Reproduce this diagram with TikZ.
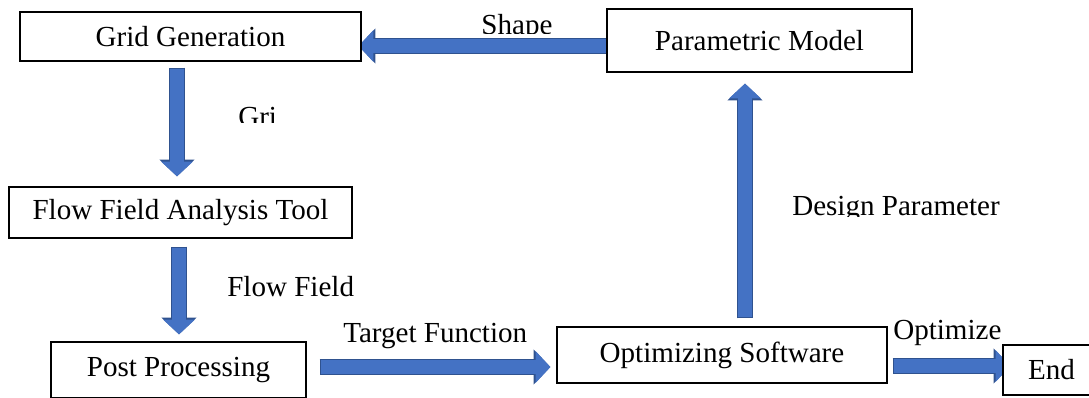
\documentclass[tikz,border=0pt]{standalone}
\usepackage{fontspec}
\setmainfont{Liberation Serif}
\usepackage{xcolor}
\usetikzlibrary{positioning,calc,arrows.meta,backgrounds}
\definecolor{arrowblue}{HTML}{4472C4}
\definecolor{arrowedge}{HTML}{2F528F}

\begin{document}
\begin{tikzpicture}[x=0.75pt,y=-0.75pt,
	box/.style={draw, fill=white, line width=0.9pt, inner sep=0pt, font=\fontsize{21.8}{26}\selectfont},
	lbl/.style={inner sep=0pt, font=\fontsize{21.8}{26}\selectfont},
	blockarrow/.style={draw=arrowblue, line width=10.5pt, -{Triangle[length=11pt,width=23pt]},
		preaction={draw=arrowedge, line width=12pt, shorten <=-0.7pt, -{Triangle[length=12.6pt,width=25.6pt]}}}]
	\useasboundingbox (0,0) rectangle (1089,397);

	% boxes
	\node[box, minimum width=341*0.75pt, minimum height=49*0.75pt] (grid) at (190.5,36.5) {Grid Generation};
	\node[box, minimum width=305*0.75pt, minimum height=63*0.75pt] (param) at (759.5,40.5) {Parametric Model};
	\node[box, minimum width=343*0.75pt, minimum height=51*0.75pt] (flow) at (180.5,212.5) {Flow Field Analysis Tool};
	\node[box, minimum width=255*0.75pt, minimum height=56*0.75pt] (post) at (178.5,370) {Post Processing};
	\node[box, minimum width=330*0.75pt, minimum height=56*0.75pt] (optim) at (722,355) {Optimizing Software};
	\node[box, minimum width=97*0.75pt, minimum height=50*0.75pt] (end) at (1051.5,370) {End};

	% block arrows (behind the boxes)
	\begin{scope}[on background layer]
		\draw[blockarrow] ($(param.west)+(6,5.5)$) -- ($(grid.east)+(-3,9.5)$);
		\draw[blockarrow] ($(grid.south)+(-13.5,7)$) -- ($(flow.north)+(-3.5,-10)$);
		\draw[blockarrow] ($(flow.south)+(-1.5,9)$) -- ($(post.north)+(0.5,-7)$);
		\draw[blockarrow] ($(post.east)+(14,-3)$) -- ($(optim.west)+(-6,12)$);
		\draw[blockarrow] ($(optim.north)+(23,-9)$) -- ($(param.south)+(-14.5,11)$);
		\draw[blockarrow] ($(optim.east)+(6,11)$) -- ($(end.west)+(8,-4)$);
	\end{scope}

	% labels (some are cut off)
	\begin{scope}
		\clip (300,0) rectangle (600,33);
		\node[lbl, anchor=base] (shapelbl) at (517,34.5) {Shape};
	\end{scope}
	\begin{scope}
		\clip (200,90) rectangle (276,122);
		\node[lbl, anchor=base west] (gridlbl) at (238,126) {Grid};
	\end{scope}
	\begin{scope}
		\clip (780,180) rectangle (1089,216);
		\node[lbl, anchor=base west] (designlbl) at (792,215) {Design Parameter};
	\end{scope}
	\node[lbl, anchor=base west] (flowlbl) at (227,296) {Flow Field};
	\node[lbl, anchor=base west] (targetlbl) at (343,342) {Target Function};
	\node[lbl, anchor=base west] (optlbl) at (893,339) {Optimize};
\end{tikzpicture}
\end{document}
